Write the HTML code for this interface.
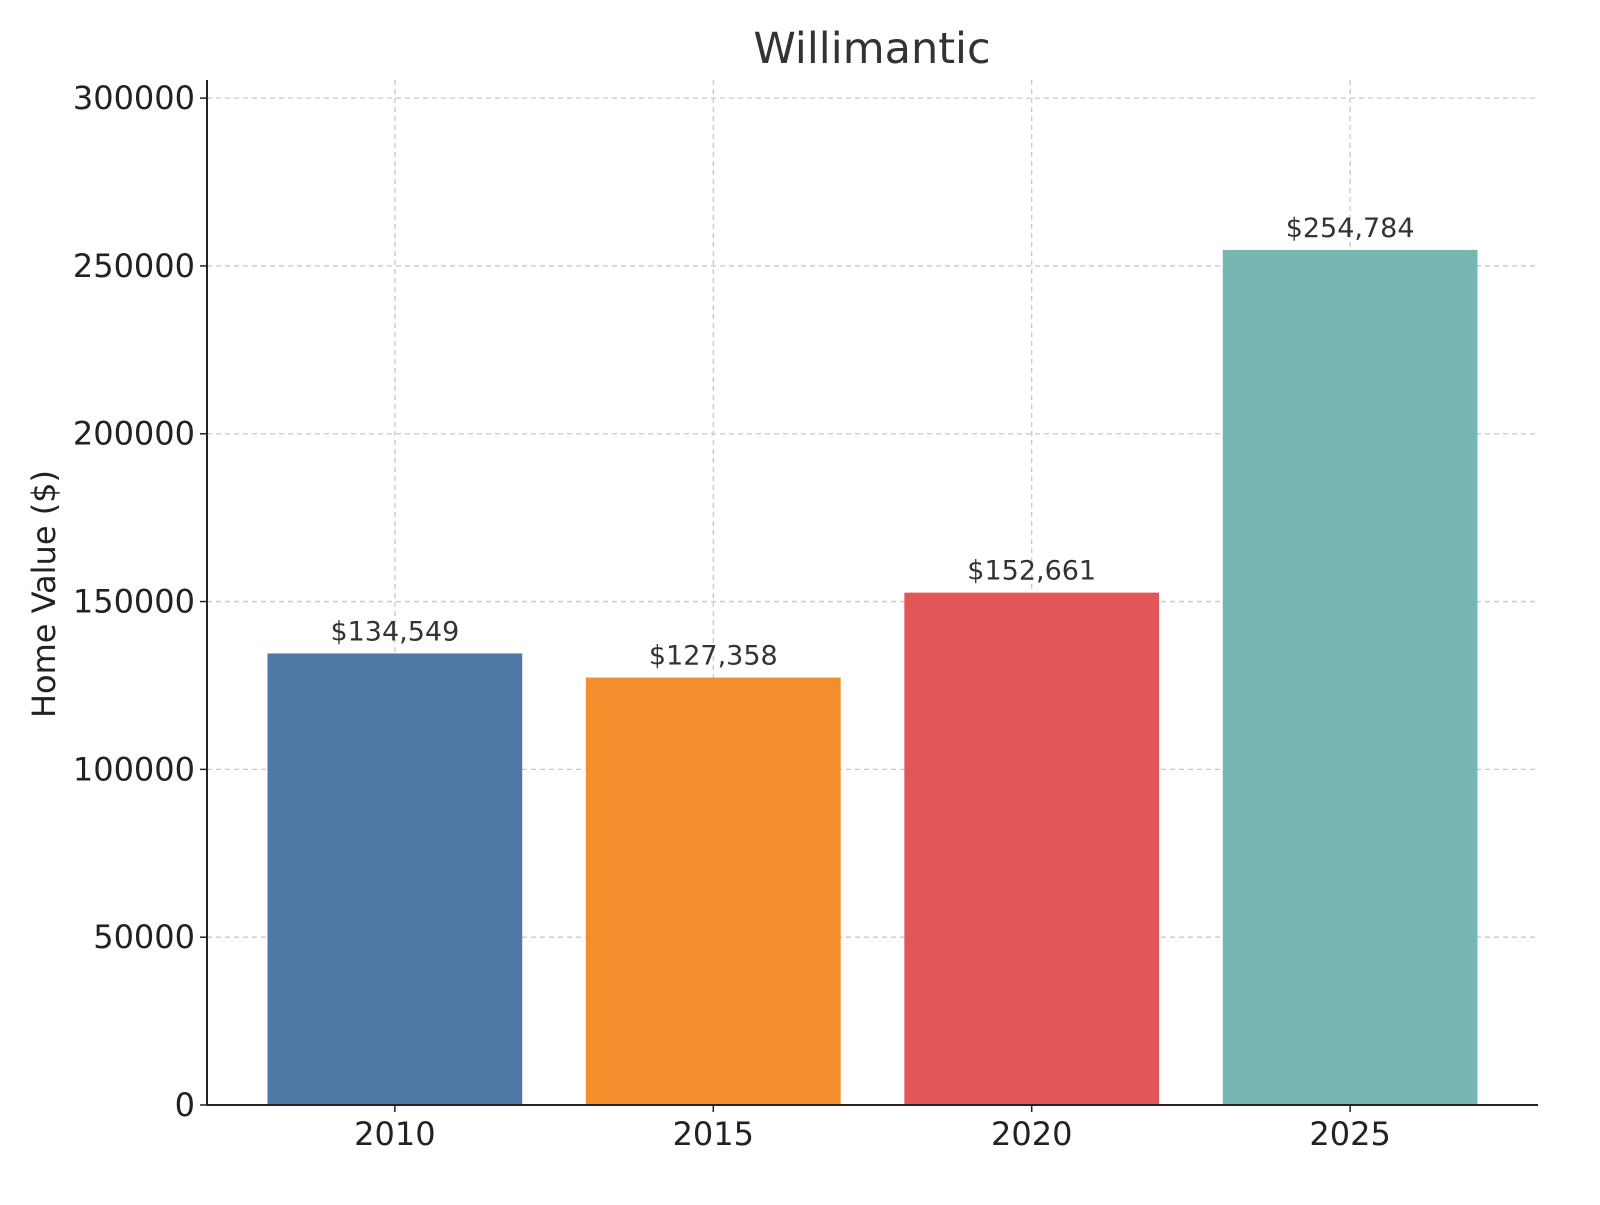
<!DOCTYPE html>
<html><head><meta charset="utf-8"><style>
body{margin:0;background:#fff;}
svg text{font-family:"DejaVu Sans","Liberation Sans",sans-serif;}
</style></head><body>
<svg id="chart" width="1600" height="1200" xmlns="http://www.w3.org/2000/svg">
<rect width="1600" height="1200" fill="#fff"/>
<g id="grid"></g>
<g id="bars"></g>
<g id="labels"></g>
<g id="axes"></g>
<text x="872" y="63" text-anchor="middle" font-size="43" fill="#333">Willimantic</text>
<text transform="translate(55,594) rotate(-90)" text-anchor="middle" font-size="32" fill="#222">Home Value ($)</text>
</svg>
<script>
const categories = ["2010","2015","2020","2025"];
const values = [134549,127358,152661,254784];
const valueLabels = ["$134,549","$127,358","$152,661","$254,784"];
const yTicks = [0,50000,100000,150000,200000,250000,300000];
const colors = ["#4e79a7","#f28e2b","#e15759","#76b7b2"];

const NS="http://www.w3.org/2000/svg";
const L=207,R=1538,B=1105,T=80;
const xmin=-0.59,xmax=3.59,ymin=0,ymax=305400;
const xs=v=>L+(v-xmin)/(xmax-xmin)*(R-L);
const ys=v=>B-(v-ymin)/(ymax-ymin)*(B-T);
function mk(tag,attrs,parent){const e=document.createElementNS(NS,tag);for(const k in attrs)e.setAttribute(k,attrs[k]);parent.appendChild(e);return e;}
const grid=document.getElementById('grid'),bars=document.getElementById('bars'),labels=document.getElementById('labels'),axes=document.getElementById('axes');
yTicks.forEach(t=>{
  const y=ys(t);
  const g=mk('line',{x1:L,x2:R,y1:y,y2:y,stroke:'#c8c8c8','stroke-width':1.3,'stroke-dasharray':'5,4'},grid);
  
  
  const tk=mk('line',{x1:L-7,x2:L,y1:y,y2:y,stroke:'#222','stroke-width':1.5},axes);
  
  
  const tx=mk('text',{x:L-12,y:y+11,'text-anchor':'end','font-size':32,fill:'#222'},axes);
  tx.textContent=String(t);
  
  
});
categories.forEach((c,i)=>{
  const x=xs(i);
  const g=mk('line',{x1:x,x2:x,y1:T,y2:B,stroke:'#c8c8c8','stroke-width':1.3,'stroke-dasharray':'5,4'},grid);
  
  
  const x0=xs(i-0.4),x1=xs(i+0.4);
  const b=mk('rect',{x:x0,y:ys(values[i]),width:x1-x0,height:ys(0)-ys(values[i]),fill:colors[i]},bars);
  
  
  const lt=mk('text',{x:x,y:ys(values[i])-13,'text-anchor':'middle','font-size':27,fill:'#333'},labels);
  lt.textContent=valueLabels[i];
  
  
  const tk=mk('line',{x1:x,x2:x,y1:B,y2:B+7,stroke:'#222','stroke-width':1.5},axes);
  
  
  const tx=mk('text',{x:x,y:B+40,'text-anchor':'middle','font-size':32,fill:'#222'},axes);
  tx.textContent=c;
  
  
});
const ya=mk('line',{x1:L,x2:L,y1:T,y2:B,stroke:'#222','stroke-width':2},axes);


const xa=mk('line',{x1:L,x2:R,y1:B,y2:B,stroke:'#222','stroke-width':2},axes);


</script>
</body></html>
